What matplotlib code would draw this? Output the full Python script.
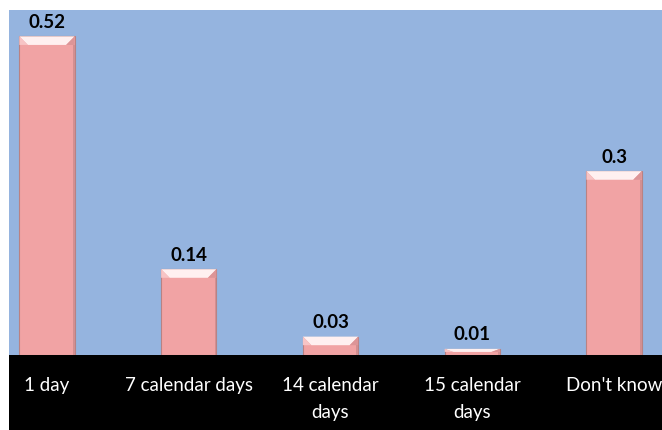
import matplotlib
matplotlib.use("Agg")
import matplotlib.pyplot as plt
from matplotlib.patches import Rectangle, Polygon

categories = ["1 day", "7 calendar days", "14 calendar\ndays", "15 calendar\ndays", "Don't know"]
values = [0.52, 0.14, 0.03, 0.01, 0.3]
value_labels = ["0.52", "0.14", "0.03", "0.01", "0.3"]

plt.rcParams["font.family"] = ["Lato", "DejaVu Sans"]

W, H = 662, 430
fig = plt.figure(figsize=(W / 100, H / 100), dpi=100)
fig.patch.set_facecolor("white")

# black band under the plot area
fig.patches.append(Rectangle((9 / W, 0), 1 - 9 / W, 75 / H, transform=fig.transFigure,
                             facecolor="black", edgecolor="none", zorder=-5))

ax = fig.add_axes([9 / W, 75 / H, 1 - 9 / W, (355 - 10) / H])
ax.set_facecolor("#95b4df")

x = list(range(len(categories)))
width = 0.39
ax.bar(x, values, width=width, color="#f1a3a4", edgecolor="#b98283", linewidth=0.8, zorder=2)

# bevel highlight along the top of each bar
bev_y = 0.014
bev_x = 0.06
for xi, v in zip(x, values):
    by = min(bev_y, v / 2)
    l, r = xi - width / 2, xi + width / 2
    ax.add_patch(Polygon([(l, v), (r, v), (r - bev_x, v - by), (l + bev_x, v - by)],
                         closed=True, facecolor="#fff0f0", edgecolor="none", zorder=3))
    ax.add_patch(Polygon([(l, v), (l + bev_x, v - by), (l, v - by)],
                         closed=True, facecolor="#f7c4c5", edgecolor="none", zorder=3))
    ax.add_patch(Polygon([(r, v), (r - bev_x, v - by), (r, v - by)],
                         closed=True, facecolor="#dc9597", edgecolor="none", zorder=3))
    # darker strip down the right side
    ax.add_patch(Rectangle((r - 0.012, 0), 0.012, v - by, facecolor="#d38f91",
                           edgecolor="none", zorder=3))

for xi, v, t in zip(x, values, value_labels):
    ax.annotate(t, (xi, v), xytext=(0, 4), textcoords="offset points",
                ha="center", va="bottom", fontsize=13.5, fontweight="bold", color="black")

ax.set_xlim(-0.268, 4.338)
ax.set_ylim(0, 0.563)
ax.set_yticks([])
ax.set_xticks(x)
ax.set_xticklabels(categories, color="white", fontsize=13.5, linespacing=1.7)
ax.tick_params(axis="x", length=0, pad=16)
for s in ax.spines.values():
    s.set_visible(False)

fig.savefig("out.png", dpi=100)
